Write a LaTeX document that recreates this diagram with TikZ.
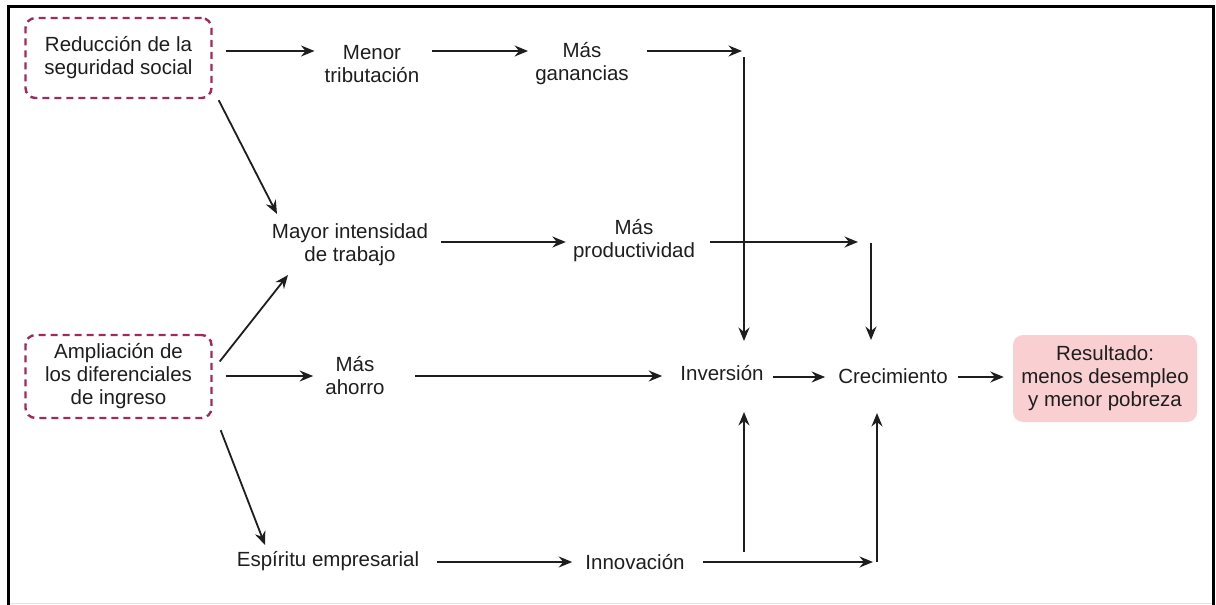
\documentclass[tikz,border=0pt]{standalone}
\usepackage{fontspec}
\setmainfont{Liberation Sans}
\usetikzlibrary{arrows.meta}
\definecolor{ink}{HTML}{1E1E1E}
\definecolor{plum}{HTML}{9E2A5E}
\definecolor{rosa}{HTML}{F9CFD2}
\definecolor{rule}{HTML}{E4E4E4}
\begin{document}
\begin{tikzpicture}[x=1pt,y=-1pt,
  every node/.style={font=\fontsize{20.5}{23}\selectfont, text=ink, align=center},
  lbl/.style={inner sep=0pt},
  cause/.style={draw=plum, line width=2.4pt, dash pattern=on 7pt off 5pt,
    rounded corners=10pt, minimum width=186pt, inner sep=0pt},
  result/.style={fill=rosa, rounded corners=10pt, minimum width=184pt,
    minimum height=87pt, inner sep=0pt},
  arr/.style={draw=ink, line width=1.8pt, -{Stealth[length=13.5pt,width=11pt,inset=4.5pt]}},
]
\useasboundingbox (0,0) rectangle (1216,605);

% outer frame
\draw[rule, line width=1pt] (8.5,603.5) -- (1213,603.5);
\draw[black, line width=3pt] (8.5,605) -- (8.5,6.5) -- (1213,6.5) -- (1213,605);

% causes
\node[cause, minimum height=80pt] (b1) at (118.5,58) {Reducción de la\\seguridad social};
\node[cause, minimum height=83pt] (b2) at (118.5,376.5) {Ampliación de\\los diferenciales\\de ingreso};

% intermediate effects
\node[lbl] (men) at (372,64) {Menor\\tributación};
\node[lbl] (gan) at (582,64) {Más\\ganancias};
\node[lbl] (may) at (350,245) {Mayor intensidad\\de trabajo};
\node[lbl] (pro) at (634,241) {Más\\productividad};
\node[lbl] (aho) at (355,376) {Más\\ahorro};
\node[lbl] (inv) at (722,373) {Inversión};
\node[lbl] (cre) at (893,376) {Crecimiento};
\node[lbl] (esp) at (328,561) {Espíritu empresarial};
\node[lbl] (inn) at (635,562) {Innovación};

% outcome
\node[result] (res) at (1105,378.5) {Resultado:\\menos desempleo\\y menor pobreza};

% bends of the right-hand connectors
\coordinate (c1) at (742,51);
\coordinate (v1) at (744,57);
\coordinate (c2) at (858,242);
\coordinate (v2) at (871,243);
\coordinate (c3) at (873,562);
\coordinate (v3) at (877,562);
\coordinate (v4) at (744,552);

% top row
\draw[arr] ([xshift=13pt,yshift=7pt]b1.east) -- ([xshift=-10pt,yshift=13pt]men.west);
\draw[arr] ([xshift=13pt,yshift=13pt]men.east) -- ([xshift=-7pt,yshift=13pt]gan.west);
\draw[arr] ([xshift=18pt,yshift=13pt]gan.east) -- (c1);
\draw[arr, shorten >=32pt] (v1) -- (v1 |- inv.center);

% towards work intensity
\draw[arr] ([xshift=6pt,yshift=-1pt]b1.south east) -- ([xshift=-73pt,yshift=31pt]may.center);
\draw[arr] ([xshift=7pt,yshift=15pt]b2.east) -- ([xshift=-62pt,yshift=-30pt]may.center);

% productivity row
\draw[arr] ([xshift=13pt,yshift=3pt]may.east) -- ([xshift=-7pt,yshift=-1pt]pro.west);
\draw[arr] ([xshift=15pt,yshift=-1pt]pro.east) -- (c2);
\draw[arr, shorten >=36pt] (v2) -- (v2 |- cre.center);

% savings row
\draw[arr] ([xshift=13pt,yshift=0.5pt]b2.east) -- ([xshift=-12pt]aho.west);
\draw[arr] ([xshift=30pt]aho.east) -- ([xshift=-18pt,yshift=-3pt]inv.west);
\draw[arr] ([xshift=9pt,yshift=-4pt]inv.east) -- ([xshift=-13pt,yshift=-1pt]cre.west);
\draw[arr] ([xshift=10pt,yshift=-1pt]cre.east) -- ([xshift=-9pt,yshift=1.5pt]res.west);

% entrepreneurship row
\draw[arr] ([xshift=8pt,yshift=-11pt]b2.south east) -- ([xshift=-63pt,yshift=16pt]esp.center);
\draw[arr] ([xshift=18pt,yshift=-1pt]esp.east) -- ([xshift=-13pt]inn.west);
\draw[arr] ([xshift=18pt]inn.east) -- (c3);
\draw[arr, shorten >=39pt] (v4) -- (v4 |- inv.center);
\draw[arr, shorten >=37pt] (v3) -- (v3 |- cre.center);
\end{tikzpicture}
\end{document}
